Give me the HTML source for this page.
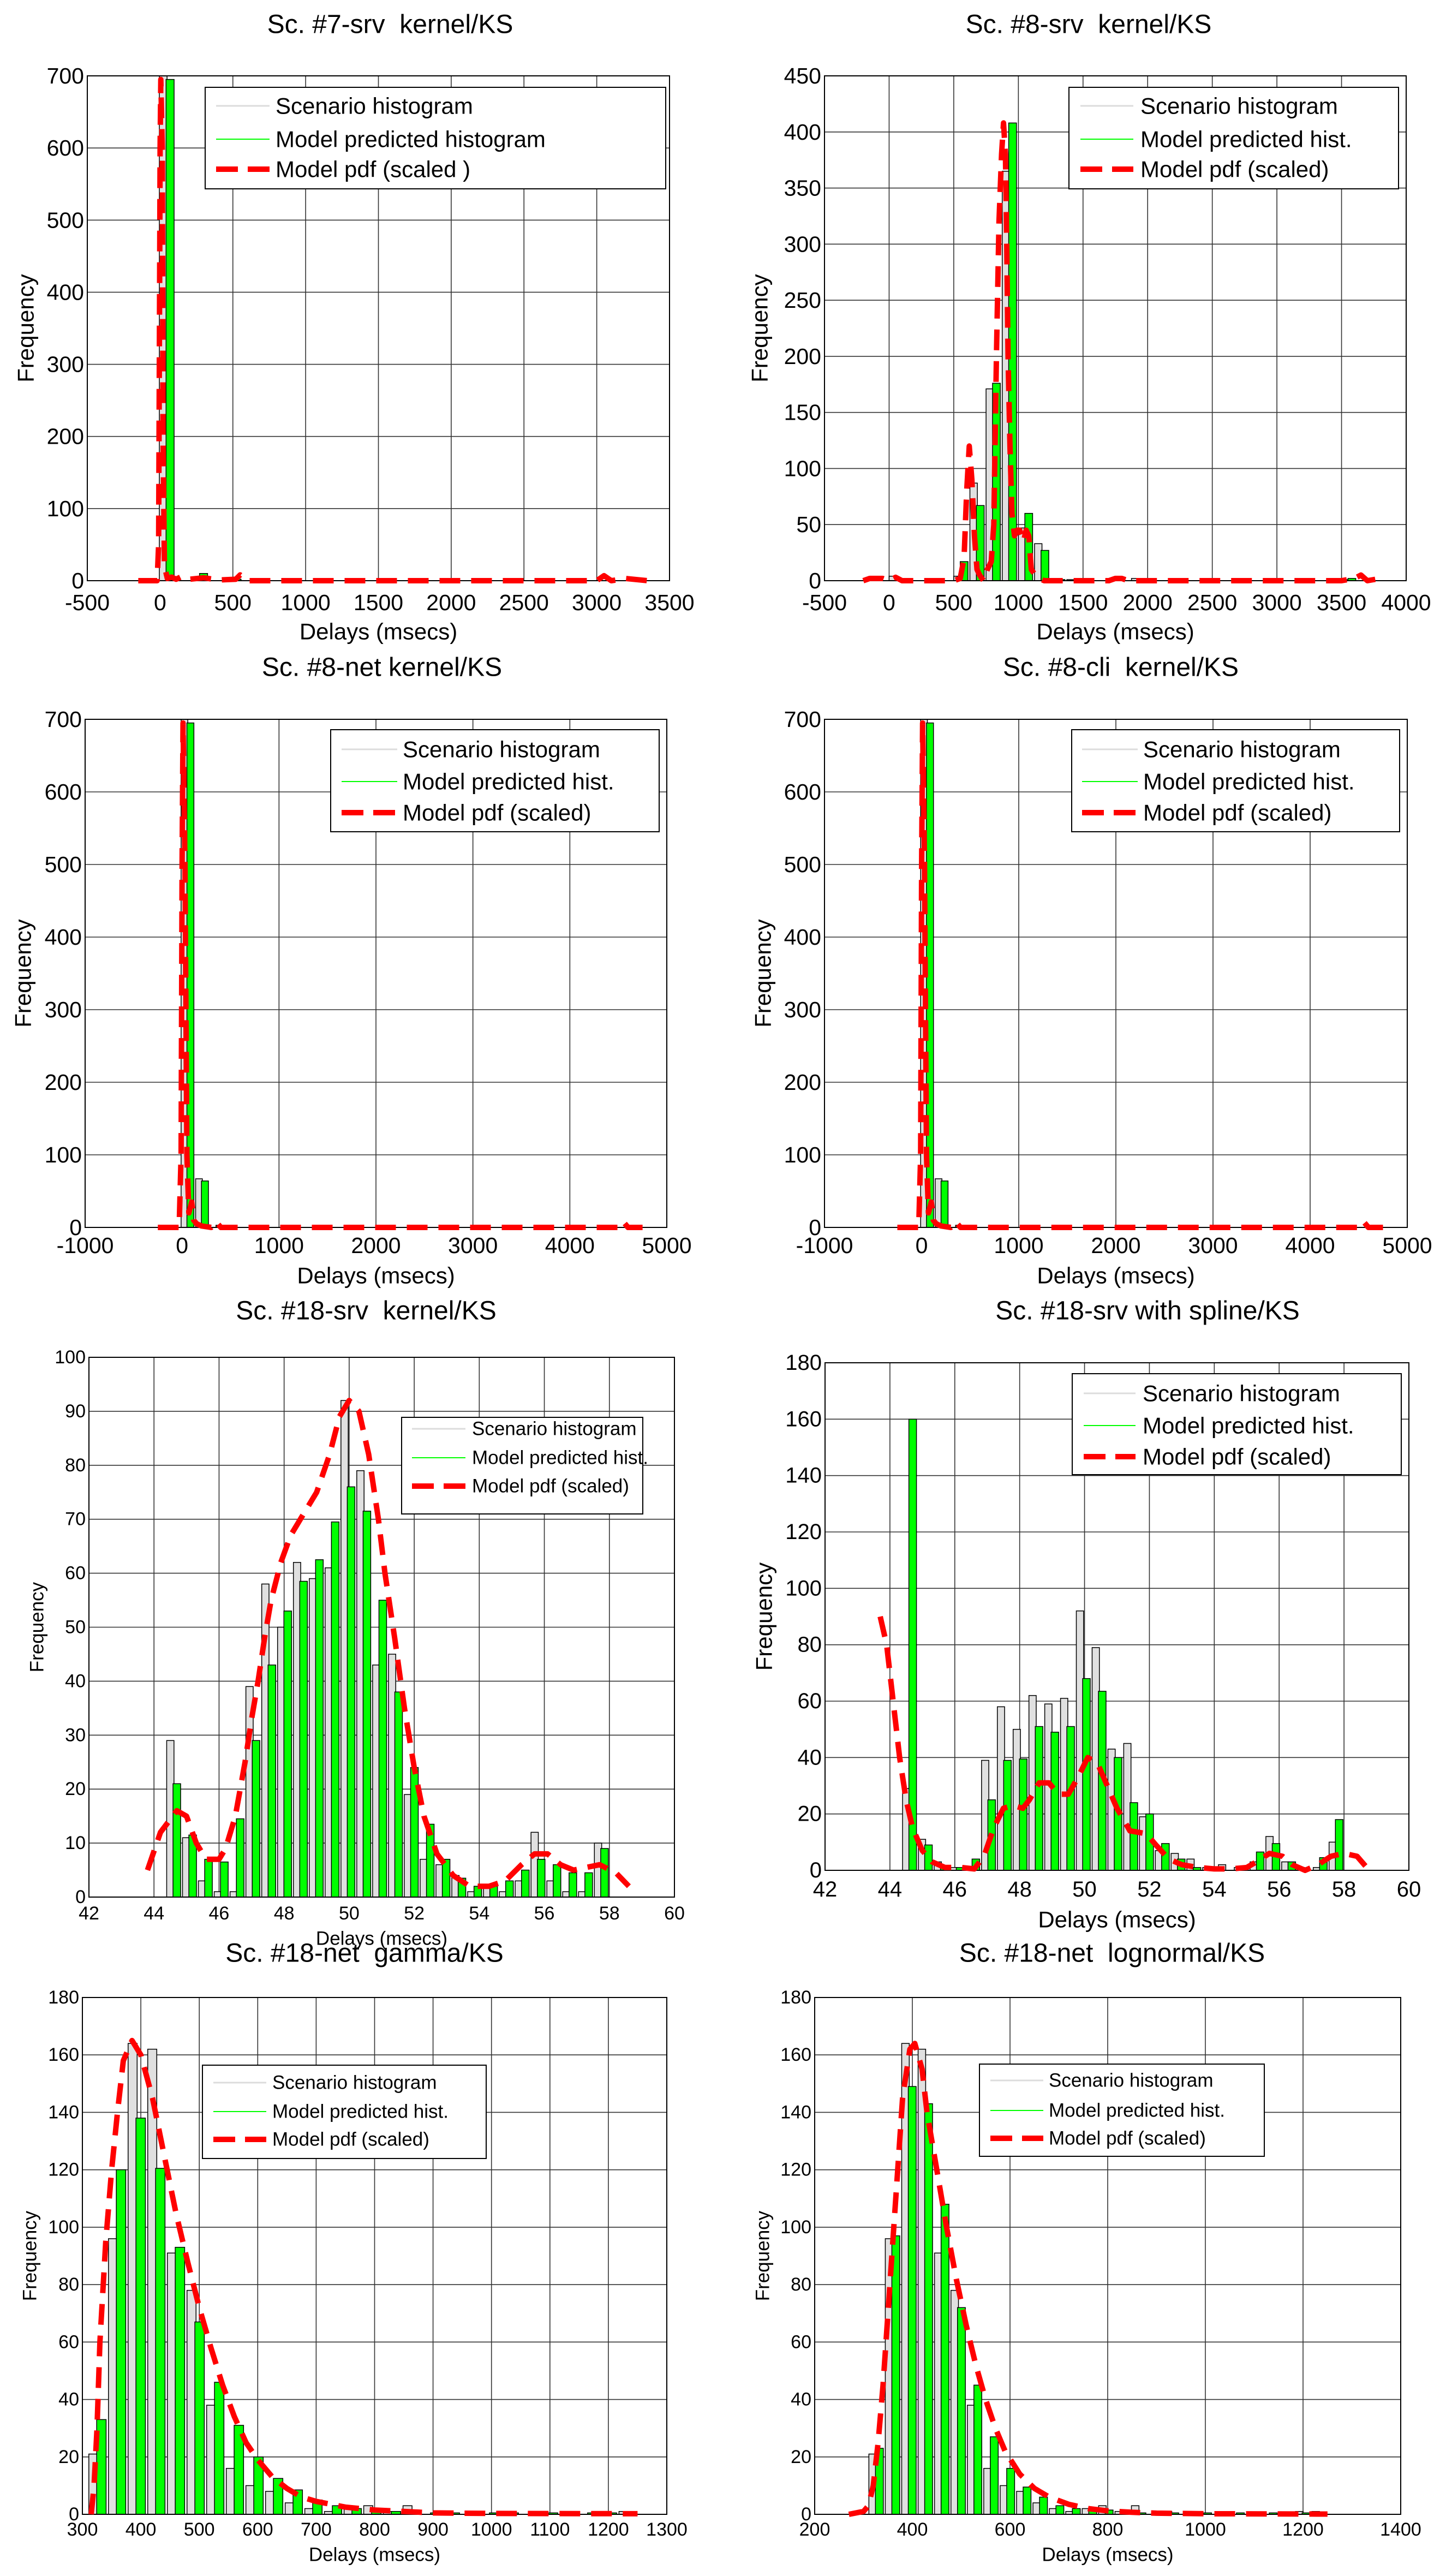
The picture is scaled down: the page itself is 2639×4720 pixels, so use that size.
<!DOCTYPE html>
<html><head><meta charset="utf-8"><style>
html,body{margin:0;padding:0;background:#fff;}
svg{display:block;font-family:"Liberation Sans",Arial,sans-serif;}
</style></head>
<body>
<svg id="fig" xmlns="http://www.w3.org/2000/svg" width="2639" height="4720" viewBox="0 0 2639 4720">
<rect x="0" y="0" width="2639" height="4720" fill="#fff"/>
</svg>
<script>
// ---- Panel 1: Sc. #7-srv kernel/KS
const p1Gray  = [700,0,0,0,3,0,0,0,0,0,0,0,0,0,0,0,0,0,0,0,0,0,0,0,0,0,0,0,0,0];
const p1Green = [695,0,10,0,2,0,0,0,0,0,0,0,0,0,0,0,0,0,0,0,0,0,0,0,0,0,0,0,0,0];
const p1PdfX = [-150,-20,-10,-5,0,5,15,20,30,50,80,110,150,200,300,400,520,550,600,1000,2000,3000,3050,3100,3200,3350];
const p1PdfY = [0,0,50,300,600,695,600,200,20,3,5,2,6,2,4,1,2,8,0,0,0,0,7,0,3,0];
// ---- Panel 2: Sc. #8-srv kernel/KS
const p2Gray  = [4,0,0,0,4,87,171,365,47,33,2,1,0,0,0,2,0,0,0,0,0,0,0,0,0,0,0,0,1,0];
const p2Green = [0,0,0,0,17,67,176,408,60,27,1,0,0,0,0,1,0,0,0,0,0,0,0,0,0,0,0,0,2,0];
const p2PdfX = [-200,-150,-50,0,50,100,500,550,580,600,620,640,660,680,700,730,760,790,810,830,850,870,885,900,910,920,935,950,970,990,1010,1040,1060,1080,1100,1130,1160,1200,1700,1750,1800,1850,3500,3600,3650,3700,3800,3820];
const p2PdfY = [0,2,2,0,3,0,0,2,20,80,120,90,40,10,5,0,10,17,50,200,320,380,408,380,300,200,120,60,40,45,45,35,45,40,10,5,2,0,0,2,2,0,0,2,5,0,2,0];
// ---- Panel 3: Sc. #8-net kernel/KS
const p3Gray  = [700,67,0,0,0,0,0,0,0,0,0,0,0,0,0,0,0,0,0,0,0,0,0,0,0,0,0,0,0,0,0,0];
const p3Green = [695,64,3,0,0,0,0,0,0,0,0,0,0,0,0,0,0,0,0,0,0,0,0,0,0,0,0,0,0,0,0,0];
const p3PdfX = [-250,-30,-10,0,10,30,50,70,100,120,150,200,300,350,400,4500,4550,4600,4750];
const p3PdfY = [0,0,100,500,695,500,100,20,35,10,5,2,0,8,0,0,8,0,0];
// ---- Panel 4: Sc. #8-cli kernel/KS
const p4Gray  = [700,67,0,0,0,0,0,0,0,0,0,0,0,0,0,0,0,0,0,0,0,0,0,0,0,0,0,0,0,0,0,0];
const p4Green = [695,64,3,0,0,0,0,0,0,0,0,0,0,0,0,0,0,0,0,0,0,0,0,0,0,0,0,0,0,0,0,0];
const p4PdfX = [-250,-30,-10,0,10,30,50,70,100,120,150,200,300,350,400,4500,4550,4600,4750];
const p4PdfY = [0,0,100,500,695,500,100,20,35,10,5,2,0,8,0,0,8,0,0];
// ---- Panel 5: Sc. #18-srv kernel/KS
const p5Gray  = [29,11,3,1,1,39,58,50,62,59,61,92,79,43,45,19,7,6,4,1,2,1,3,12,3,1,1,10];
const p5Green = [21,11.5,7,6.5,14.5,29,43,53,58.5,62.5,69.5,76,71.5,55,38,24,13.5,7,3.5,2,2,3,5,7,6,4.5,4.5,9];
const p5PdfX = [43.8,44.2,44.7,45.0,45.3,45.6,46.0,46.2,46.5,46.8,47.0,47.2,47.4,47.6,47.9,48.2,48.6,49.0,49.4,49.7,50.0,50.3,50.6,50.9,51.1,51.4,51.7,52.0,52.3,52.7,53.2,53.7,54.3,54.8,55.3,55.7,56.1,56.5,56.9,57.3,57.7,58.2,58.6];
const p5PdfY = [5,12,16,15,10,7,7,9,15,25,33,40,48,55,62,67,71,75,82,89,92,90,82,70,60,48,35,24,15,8,4,2,2,3,6,8,8,6,5,5.5,6,4.5,2];
// ---- Panel 6: Sc. #18-srv with spline/KS
const p6Gray  = [29,11,3,1,1,39,58,50,62,59,61,92,79,43,45,19,7,6,4,1,2,1,3,12,3,1,1,10];
const p6Green = [160,9,1.5,1,4,25,39,39.5,51,49,51,68,63.5,40,24,20,9.5,4,1,0.5,0,1,6.5,9.5,3,0,4.5,18];
const p6PdfX = [43.7,43.9,44.1,44.3,44.5,44.7,45.0,45.3,45.7,46.2,46.6,46.9,47.2,47.5,47.8,48.1,48.3,48.6,48.9,49.2,49.5,49.8,50.1,50.4,50.7,51.0,51.4,51.9,52.2,52.6,53.0,53.5,54.0,54.5,55.0,55.3,55.7,56.1,56.4,56.8,57.2,57.6,58.0,58.4,58.7];
const p6PdfY = [90,80,60,40,25,15,7,3,1,1,0.5,5,15,22,23,22,25,31,31,27,27,33,40,38,30,22,14,13,9,4,2,1,0.5,0.5,1,3,6,5,2,0,2,5,6,5,1];
// ---- Panel 7: Sc. #18-net gamma/KS
const p7Gray  = [21,96,164,162,91,78,38,16,10,8,4,2,1,2,3,1,3,0,1,0,0,0,0,0,0,0,1,1];
const p7Green = [33,120,138,120.5,93,67,46,31,20,12.5,8.5,5,3,2,2,1,1,0.5,0.5,0.5,0.5,0.5,0.5,0.5,0.5,0.5,0.5,0.5];
const p7PdfX = [315,320,325,330,340,350,360,370,385,400,420,440,460,480,500,520,540,560,580,600,625,650,675,700,750,800,850,900,1000,1250];
const p7PdfY = [0,10,30,60,95,120,140,158,165,160,145,125,105,88,72,58,45,34,25,19,13,9,6,4.5,2.5,1.5,1,0.5,0.3,0.2];
// ---- Panel 8: Sc. #18-net lognormal/KS
const p8Gray  = [21,96,164,162,91,78,38,16,10,8,4,2,1,2,3,1,3,0,1,0,0,0,0,0,0,0,1,1];
const p8Green = [23,97,149,143,108,72,45,27,16,9.5,6,3,2,2,1.5,1,0.5,0.5,0.5,0.5,0.5,0.5,0.5,0.5,0.5,0.5,0.5,0.5];
const p8PdfX = [270,300,310,320,330,340,350,360,370,380,395,405,420,430,450,470,490,510,530,550,570,590,620,650,680,720,760,800,850,900,1000,1250];
const p8PdfY = [0,1,3,10,25,45,70,95,120,145,162,164,155,140,120,100,82,66,52,40,30,22,14,9,6,3.5,2,1.2,0.7,0.4,0.2,0.1];

const NS = "http://www.w3.org/2000/svg";
const svg = document.getElementById('fig');
function mk(tag, attrs, parent){
  const e = document.createElementNS(NS, tag);
  for (const k in attrs) e.setAttribute(k, attrs[k]);
  (parent||svg).appendChild(e);
  return e;
}
function range(a,b,s){const r=[];for(let v=a;v<=b+1e-9;v+=s)r.push(+v.toFixed(6));return r;}

const panels = [
 {key:'sc7-srv', title:'Sc. #7-srv  kernel/KS', tx:715, ty:45, L:160,R:1227,T:139,B:1064, xmin:-500,xmax:3500,xt:range(-500,3500,500), ymax:700,yt:range(0,700,100),
  s:-5,w:115, gray:p1Gray, green:p1Green, px:p1PdfX, py:p1PdfY, tf:41, lf:42, xtY:1104, xlY:1157, ylX:47,
  lg:{x:376,y:160,w:844,h:186,sx:20,sw:98,tx:129,rows:[34,95,150],f:42}, l2:'Model predicted histogram', l3:'Model pdf (scaled )'},
 {key:'sc8-srv', title:'Sc. #8-srv  kernel/KS', tx:1995, ty:45, L:1511,R:2577,T:139,B:1064, xmin:-500,xmax:4000,xt:range(-500,4000,500), ymax:450,yt:range(0,450,50),
  s:0,w:125, gray:p2Gray, green:p2Green, px:p2PdfX, py:p2PdfY, tf:41, lf:42, xtY:1104, xlY:1157, ylX:1392,
  lg:{x:1959,y:160,w:604,h:186,sx:21,sw:97,tx:131,rows:[34,95,150],f:42}, l2:'Model predicted hist.', l3:'Model pdf (scaled)'},
 {key:'sc8-net', title:'Sc. #8-net kernel/KS', tx:700, ty:1223, L:156,R:1222,T:1318,B:2249, xmin:-1000,xmax:5000,xt:range(-1000,5000,1000), ymax:700,yt:range(0,700,100),
  s:-10,w:150, gray:p3Gray, green:p3Green, px:p3PdfX, py:p3PdfY, tf:41, lf:42, xtY:2282, xlY:2337, ylX:42,
  lg:{x:606,y:1337,w:602,h:187,sx:20,sw:102,tx:132,rows:[36,95,152],f:42}, l2:'Model predicted hist.', l3:'Model pdf (scaled)'},
 {key:'sc8-cli', title:'Sc. #8-cli  kernel/KS', tx:2054, ty:1223, L:1511,R:2579,T:1318,B:2249, xmin:-1000,xmax:5000,xt:range(-1000,5000,1000), ymax:700,yt:range(0,700,100),
  s:-10,w:150, gray:p4Gray, green:p4Green, px:p4PdfX, py:p4PdfY, tf:41, lf:42, xtY:2282, xlY:2337, ylX:1398,
  lg:{x:1964,y:1337,w:601,h:187,sx:19,sw:102,tx:131,rows:[36,95,152],f:42}, l2:'Model predicted hist.', l3:'Model pdf (scaled)'},
 {key:'sc18-srv-kernel', title:'Sc. #18-srv  kernel/KS', tx:671, ty:2402, L:163,R:1236,T:2487,B:3476, xmin:42,xmax:60,xt:range(42,60,2), ymax:100,yt:range(0,100,10),
  s:44.39,w:0.487, gray:p5Gray, green:p5Green, px:p5PdfX, py:p5PdfY, tf:34, lf:35, xtY:3506, xlY:3552, ylX:68,
  lg:{x:736,y:2597,w:442,h:177,sx:19,sw:98,tx:129,rows:[21,74,126],f:35}, l2:'Model predicted hist.', l3:'Model pdf (scaled)'},
 {key:'sc18-srv-spline', title:'Sc. #18-srv with spline/KS', tx:2103, ty:2402, L:1512,R:2582,T:2497,B:3427, xmin:42,xmax:60,xt:range(42,60,2), ymax:180,yt:range(0,180,20),
  s:44.39,w:0.487, gray:p6Gray, green:p6Green, px:p6PdfX, py:p6PdfY, tf:40, lf:42, xtY:3462, xlY:3517, ylX:1400,
  lg:{x:1965,y:2517,w:603,h:185,sx:21,sw:95,tx:129,rows:[36,95,152],f:42}, l2:'Model predicted hist.', l3:'Model pdf (scaled)'},
 {key:'sc18-net-gamma', title:'Sc. #18-net  gamma/KS', tx:668, ty:3579, L:151,R:1222,T:3660,B:4607, xmin:300,xmax:1300,xt:range(300,1300,100), ymax:180,yt:range(0,180,20),
  s:311,w:33.6, gray:p7Gray, green:p7Green, px:p7PdfX, py:p7PdfY, tf:34, lf:35, xtY:4635, xlY:4681, ylX:55,
  lg:{x:371,y:3784,w:520,h:171,sx:20,sw:97,tx:128,rows:[32,85,136],f:35}, l2:'Model predicted hist.', l3:'Model pdf (scaled)'},
 {key:'sc18-net-lognormal', title:'Sc. #18-net  lognormal/KS', tx:2038, ty:3579, L:1493,R:2567,T:3660,B:4607, xmin:200,xmax:1400,xt:range(200,1400,200), ymax:180,yt:range(0,180,20),
  s:311,w:33.6, gray:p8Gray, green:p8Green, px:p8PdfX, py:p8PdfY, tf:34, lf:35, xtY:4635, xlY:4681, ylX:1398,
  lg:{x:1795,y:3782,w:522,h:169,sx:20,sw:97,tx:127,rows:[30,85,136],f:35}, l2:'Model predicted hist.', l3:'Model pdf (scaled)'}
];

panels.forEach(p => {
  const X = v => p.L + (v - p.xmin) / (p.xmax - p.xmin) * (p.R - p.L);
  const Y = v => p.B - v / p.ymax * (p.B - p.T);
  const g = mk('g', {});
  
  

  const t = mk('text', {x:p.tx, y:p.ty, 'font-size':48, 'text-anchor':'middle', 'dominant-baseline':'central', 'xml:space':'preserve', style:'white-space:pre'}, g);
  t.textContent = p.title;
  
  

  // grid
  const grid = mk('g', {stroke:'#333', 'stroke-width':1.6}, g);
  
  
  p.xt.forEach(v => mk('line', {x1:X(v), x2:X(v), y1:p.T, y2:p.B}, grid));
  p.yt.forEach(v => mk('line', {x1:p.L, x2:p.R, y1:Y(v), y2:Y(v)}, grid));

  // tick labels
  p.xt.forEach(v => {
    const e = mk('text', {x:X(v), y:p.xtY, 'font-size':p.tf, 'text-anchor':'middle', 'dominant-baseline':'central'}, g);
    e.textContent = v;
    
    
  });
  p.yt.forEach(v => {
    const e = mk('text', {x:p.L - 6, y:Y(v), 'font-size':p.tf, 'text-anchor':'end', 'dominant-baseline':'central'}, g);
    e.textContent = v;
    
    
  });

  // bars
  const bars = mk('g', {stroke:'#000', 'stroke-width':1.5}, g);
  
  
  p.gray.forEach((v, i) => {
    if (v <= 0) return;
    const x0 = X(p.s + i * p.w), x1 = X(p.s + (i + 0.46) * p.w);
    const r = mk('rect', {x:x0, y:Y(v), width:Math.max(1, x1 - x0), height:p.B - Y(v), fill:'#e0e0e0'}, bars);
    
    
  });
  p.green.forEach((v, i) => {
    if (v <= 0) return;
    const x0 = X(p.s + (i + 0.4) * p.w), x1 = X(p.s + (i + 0.88) * p.w);
    const r = mk('rect', {x:x0, y:Y(v), width:Math.max(1, x1 - x0), height:p.B - Y(v), fill:'#00ff00'}, bars);
    
    
  });

  // axes box
  const box = mk('rect', {x:p.L, y:p.T, width:p.R - p.L, height:p.B - p.T, fill:'none', stroke:'#000', 'stroke-width':2}, g);
  
  

  // pdf
  const d = p.px.map((v, i) => (i ? 'L' : 'M') + X(v).toFixed(1) + ',' + Y(p.py[i]).toFixed(1)).join(' ');
  const pdf = mk('path', {d:d, fill:'none', stroke:'#ff0000', 'stroke-width':10, 'stroke-dasharray':'38 20', 'stroke-linejoin':'round'}, g);
  
  

  // axis labels
  const xl = mk('text', {x:(p.L + p.R) / 2, y:p.xlY, 'font-size':p.lf, 'text-anchor':'middle', 'dominant-baseline':'central'}, g);
  xl.textContent = 'Delays (msecs)';
  
  
  const yc = (p.T + p.B) / 2;
  const yl = mk('text', {x:p.ylX, y:yc, 'font-size':p.lf, 'text-anchor':'middle', 'dominant-baseline':'central', transform:'rotate(-90 ' + p.ylX + ' ' + yc + ')'}, g);
  yl.textContent = 'Frequency';
  
  

  // legend
  const L = p.lg;
  const lg = mk('g', {}, g);
  
  
  mk('rect', {x:L.x, y:L.y, width:L.w, height:L.h, fill:'#fff', stroke:'#000', 'stroke-width':2}, lg);
  const labels = ['Scenario histogram', p.l2, p.l3];
  const styles = [{stroke:'#dcdcdc', 'stroke-width':3}, {stroke:'#00ff00', 'stroke-width':2}, {stroke:'#ff0000', 'stroke-width':10, 'stroke-dasharray':'40 18'}];
  labels.forEach((lab, i) => {
    const yy = L.y + L.rows[i];
    const ln = mk('line', Object.assign({x1:L.x + L.sx, x2:L.x + L.sx + L.sw, y1:yy, y2:yy}, styles[i]), lg);
    
    
    const tx = mk('text', {x:L.x + L.tx, y:yy, 'font-size':L.f, 'dominant-baseline':'central', 'xml:space':'preserve', style:'white-space:pre'}, lg);
    tx.textContent = lab;
    
    
  });
});
</script>
</body></html>
